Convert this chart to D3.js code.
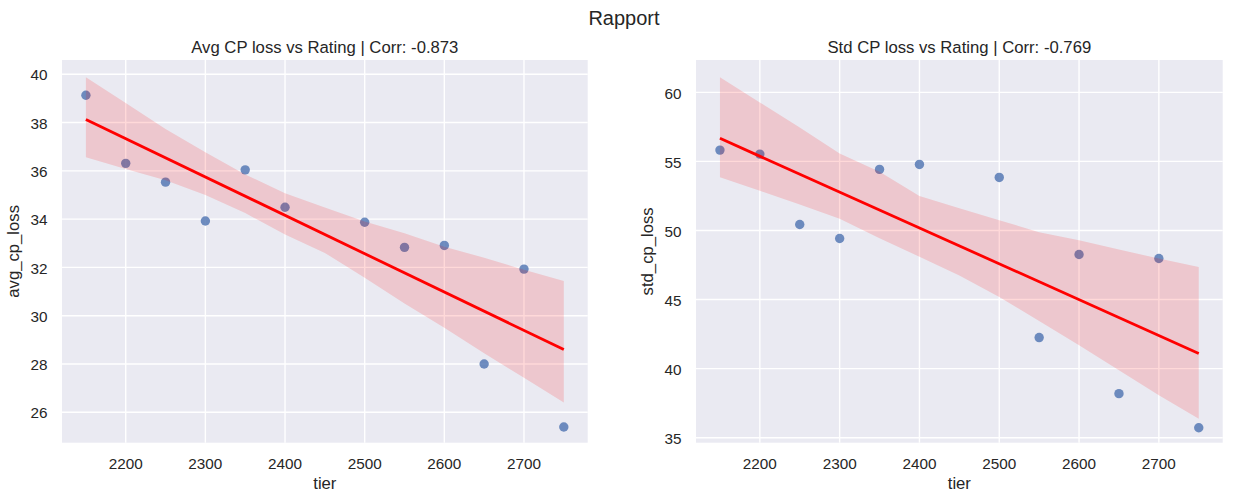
<!DOCTYPE html>
<html><head><meta charset="utf-8">
<script src="https://cdn.jsdelivr.net/npm/d3@7"></script>
<style>
body{margin:0;background:#fff}
text{font-family:"Liberation Sans",Arial,Helvetica,sans-serif;fill:#262626}
</style>
</head><body>
<svg id="chart" width="1233" height="502"></svg>
<script>
// ---- data ----
const tiers      = [2150,2200,2250,2300,2350,2400,2500,2550,2600,2650,2700,2750];
const avgCpLoss  = [39.13,36.31,35.53,33.92,36.04,34.49,33.87,32.83,32.91,28.00,31.93,25.39];
const stdCpLoss  = [55.82,55.53,50.43,49.42,54.42,54.78,53.84,42.25,48.26,38.19,47.97,35.72];

// confidence band (bootstrap) edges
const bandTiers  = [2150,2200,2250,2300,2350,2400,2450,2500,2550,2600,2650,2700,2750];
const avgUpper   = [39.88,38.81,37.73,36.77,35.85,35.07,34.48,33.90,33.41,32.86,32.40,31.90,31.44];
const avgLower   = [36.56,36.08,35.61,35.00,34.25,33.36,32.60,31.57,30.50,29.50,28.44,27.43,26.41];
const stdUpper   = [61.09,59.27,57.45,55.58,54.25,52.49,51.61,50.75,49.88,49.30,48.62,47.97,47.36];
const stdLower   = [53.85,52.87,51.89,50.85,49.43,48.10,46.75,45.19,43.45,41.69,39.88,38.07,36.38];

const xTicks     = [2200,2300,2400,2500,2600,2700];
const avgTicks   = [26,28,30,32,34,36,38,40];
const stdTicks   = [35,40,45,50,55,60];
const titles     = ["Avg CP loss vs Rating | Corr: -0.873","Std CP loss vs Rating | Corr: -0.769"];
const yLabels    = ["avg_cp_loss","std_cp_loss"];
const xLabel     = "tier";
const suptitle   = "Rapport";

// ---- layout ----
const svg = d3.select("#chart");
const panels = [
  {x0:62,  x1:587.7,  y0:60, y1:442.7, yDom:[24.74,40.59], yVals:avgCpLoss, up:avgUpper, lo:avgLower, yTicks:avgTicks},
  {x0:696, x1:1222.7, y0:60, y1:442.7, yDom:[34.64,62.34], yVals:stdCpLoss, up:stdUpper, lo:stdLower, yTicks:stdTicks}
];

svg.append("text").attr("x",624).attr("y",25.3).attr("text-anchor","middle")
  .style("font-size","20px").text(suptitle);

function linreg(xs, ys){
  const mx = d3.mean(xs), my = d3.mean(ys);
  let sxy=0, sxx=0;
  xs.forEach((x,i)=>{ sxy += (x-mx)*(ys[i]-my); sxx += (x-mx)*(x-mx); });
  const b = sxy/sxx;
  return x => my + b*(x-mx);
}

panels.forEach((p,k)=>{
  const x = d3.scaleLinear().domain([2120,2780]).range([p.x0,p.x1]);
  const y = d3.scaleLinear().domain(p.yDom).range([p.y1,p.y0]);
  const g = svg.append("g");

  g.append("rect").attr("x",p.x0).attr("y",p.y0)
    .attr("width",p.x1-p.x0).attr("height",p.y1-p.y0).attr("fill","#EAEAF2");

  // grid
  g.selectAll(".vg").data(xTicks).join("line")
    .attr("x1",d=>x(d)).attr("x2",d=>x(d)).attr("y1",p.y0).attr("y2",p.y1)
    .attr("stroke","#fff").attr("stroke-width",1.4);
  g.selectAll(".hg").data(p.yTicks).join("line")
    .attr("y1",d=>y(d)).attr("y2",d=>y(d)).attr("x1",p.x0).attr("x2",p.x1)
    .attr("stroke","#fff").attr("stroke-width",1.4);

  // tick labels
  g.selectAll(".xt").data(xTicks).join("text")
    .attr("x",d=>x(d)).attr("y",469).attr("text-anchor","middle")
    .style("font-size","15.3px").text(d=>d);
  g.selectAll(".yt").data(p.yTicks).join("text")
    .attr("x",p.x0-14.5).attr("y",d=>y(d)+6.2).attr("text-anchor","end")
    .style("font-size","15.3px").text(d=>d);

  // axis labels and title
  g.append("text").attr("x",(p.x0+p.x1)/2).attr("y",489).attr("text-anchor","middle")
    .style("font-size","16.7px").text(xLabel);
  g.append("text").attr("transform",`translate(${p.x0-43},${(p.y0+p.y1)/2}) rotate(-90)`)
    .attr("text-anchor","middle").style("font-size","16.7px").text(yLabels[k]);
  g.append("text").attr("x",(p.x0+p.x1)/2).attr("y",52.7).attr("text-anchor","middle")
    .style("font-size","16.7px").text(titles[k]);

  // scatter
  g.selectAll(".pt").data(tiers).join("circle")
    .attr("cx",d=>x(d)).attr("cy",(d,i)=>y(p.yVals[i])).attr("r",4.7)
    .attr("fill","#4C72B0").attr("fill-opacity",0.8);

  // confidence band
  const area = d3.area().x((d)=>x(d)).y0((d,i)=>y(p.lo[i])).y1((d,i)=>y(p.up[i]));
  g.append("path").datum(bandTiers).attr("d",area)
    .attr("fill","red").attr("fill-opacity",0.15);

  // regression line
  const f = linreg(tiers, p.yVals);
  const ends = d3.extent(tiers);
  g.append("path").datum(ends)
    .attr("d", d3.line().x(d=>x(d)).y(d=>y(f(d))))
    .attr("stroke","red").attr("stroke-width",2.8).attr("fill","none");
});
</script>
</body></html>
